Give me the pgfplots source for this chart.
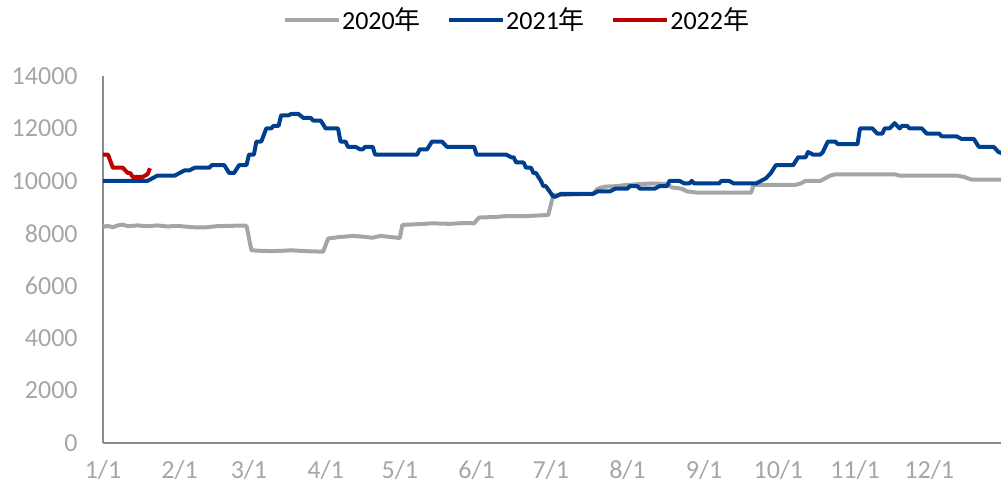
\documentclass[border=0pt]{standalone}
\usepackage{pgfplots}
\pgfplotsset{compat=1.18}
\usepackage{fontspec}
\setmainfont{Carlito}
\newfontfamily\cjk{Noto Sans CJK SC}
\definecolor{c2020}{HTML}{A5A5A5}
\definecolor{c2021}{HTML}{003F8E}
\definecolor{c2022}{HTML}{C00000}
\definecolor{axcol}{HTML}{8C8C8C}
\definecolor{tkcol}{HTML}{A6A6A6}
\begin{document}
\fontsize{13}{15}\selectfont
\begin{tikzpicture}
\path[use as bounding box] (-51.5pt,-23.5pt) rectangle (449pt,221.5pt);
\begin{axis}[
  scale only axis,
  width=449pt, height=183.5pt,
  xmin=0, xmax=363, ymin=0, ymax=14000,
  axis lines=left,
  axis line style={-, color=axcol, line width=0.8pt},
  major tick length=0pt,
  xtick={0,31,59,90,120,151,181,212,243,273,304,334},
  xticklabels={1/1,2/1,3/1,4/1,5/1,6/1,7/1,8/1,9/1,10/1,11/1,12/1},
  ytick={0,2000,4000,6000,8000,10000,12000,14000},
  /pgf/number format/assume math mode=true,
  yticklabel={\pgfmathprintnumber[fixed,1000 sep={}]{\tick}},
  scaled y ticks=false,
  xticklabel style={color=tkcol, font=\fontsize{13}{15}\selectfont, anchor=north, inner sep=0pt, yshift=-8.5pt},
  yticklabel style={color=tkcol, font=\fontsize{13}{15}\selectfont, anchor=east, inner sep=0pt, xshift=-12.5pt},
  legend columns=3,
  legend style={draw=none, at={(0.462,1.1526)}, anchor=center, font=\fontsize{13}{15}\selectfont,
    /tikz/every odd column/.append style={column sep=-1.5pt},
    /tikz/every even column/.append style={column sep=11pt}, inner sep=0pt},
  legend image code/.code={\draw[#1, line width=2.2pt] (0pt,0pt) -- (27pt,0pt);},
  every axis plot/.append style={line width=2pt, line join=round},
]
\addplot[c2020, mark=none] coordinates {
(0,8250) (2,8280) (4,8230) (6,8300) (8,8330) (10,8270) (14,8300) (18,8270) (22,8300) (26,8260) (30,8280) (34,8250) (38,8220) (42,8230) (46,8270) (50,8280) (54,8290) (58,8290) (60,7350) (64,7330) (68,7320) (72,7330) (76,7350) (80,7330) (84,7310) (89,7300) (91,7800) (95,7850) (101,7900) (105,7870) (109,7830) (112,7900) (116,7860) (120,7820) (121,8320) (126,8340) (133,8380) (140,8360) (146,8390) (150,8380) (152,8600) (158,8620) (164,8660) (170,8650) (176,8680) (180,8700) (182,9450) (190,9480) (198,9500) (200,9700) (203,9780) (208,9800) (211,9840) (218,9880) (222,9900) (228,9880) (230,9750) (234,9700) (236,9600) (240,9550) (262,9550) (263,9850) (280,9850) (282,9900) (284,10000) (290,10000) (292,10100) (294,10200) (296,10250) (320,10250) (322,10200) (345,10200) (348,10150) (351,10050) (365,10050)
};
\addlegendentry{2020{\cjk 年}}
\addplot[c2021, mark=none] coordinates {
(0,10000) (18,10000) (20,10100) (22,10200) (29,10200) (31,10300) (33,10400) (35,10400) (37,10500) (43,10500) (44,10600) (49,10600) (51,10300) (53,10300) (55,10600) (58,10600) (59,11000) (61,11000) (62,11500) (64,11500) (66,12000) (68,12000) (69,12100) (71,12100) (72,12500) (75,12500) (76,12550) (79,12550) (81,12400) (84,12400) (85,12300) (88,12300) (90,12000) (95,12000) (96,11500) (98,11500) (99,11300) (102,11300) (104,11200) (105,11200) (106,11300) (109,11300) (110,11000) (127,11000) (128,11200) (131,11200) (133,11500) (137,11500) (139,11300) (150,11300) (151,11000) (163,11000) (165,10900) (166,10900) (167,10700) (170,10700) (171,10500) (173,10500) (174,10300) (175,10300) (177,10000) (178,9800) (179,9800) (182,9400) (183,9400) (185,9500) (198,9500) (200,9600) (205,9600) (207,9700) (212,9700) (213,9800) (216,9800) (217,9700) (223,9700) (225,9800) (228,9800) (229,10000) (233,10000) (235,9900) (237,9900) (238,10000) (239,9900) (249,9900) (250,10000) (253,10000) (255,9900) (264,9900) (266,10000) (268,10100) (270,10300) (272,10600) (279,10600) (281,10900) (284,10900) (285,11100) (287,11000) (290,11000) (291,11100) (293,11500) (296,11500) (297,11400) (305,11400) (306,12000) (311,12000) (313,11800) (315,11800) (316,12000) (318,12000) (320,12200) (322,12000) (323,12100) (325,12100) (326,12000) (331,12000) (333,11800) (338,11800) (339,11700) (345,11700) (347,11600) (352,11600) (354,11300) (360,11300) (362,11100) (365,11000)
};
\addlegendentry{2021{\cjk 年}}
\addplot[c2022, mark=none] coordinates {
(0,11000) (2,11000) (4,10500) (8,10500) (10,10300) (11,10300) (12,10150) (16,10150) (18,10250) (19,10480)
};
\addlegendentry{2022{\cjk 年}}
\end{axis}
\end{tikzpicture}
\end{document}
